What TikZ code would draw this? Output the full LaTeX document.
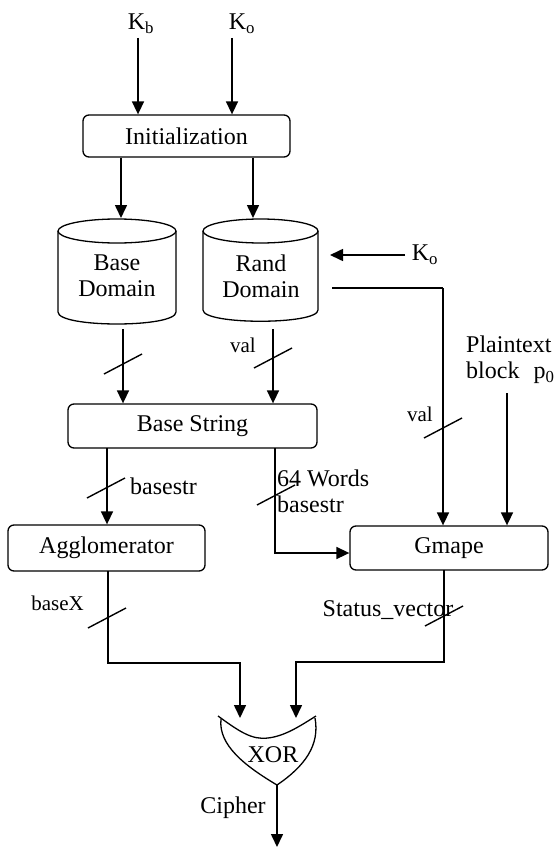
\documentclass[tikz,border=0pt]{standalone}
\usepackage{fontspec}
\setmainfont{Liberation Serif}
\usetikzlibrary{arrows.meta,calc}
\begin{document}
\begin{tikzpicture}[x=1pt,y=-1pt,
  box/.style={draw,line width=1.3pt,rounded corners=6pt,inner sep=0pt,font=\fontsize{24}{27}\selectfont},
  lbl/.style={inner sep=0pt,font=\fontsize{24}{27}\selectfont},
  slbl/.style={inner sep=0pt,font=\fontsize{21}{24}\selectfont},
  arr/.style={line width=1.6pt,-{Triangle[length=13pt,width=12pt]}},
  ln/.style={line width=1.6pt},
  cylsty/.style={line width=1.3pt},
  slashsty/.style={line width=1.4pt},
]
\useasboundingbox (0,0) rectangle (555,848);

% inputs
\node[lbl] (kb) at (141,24) {K\textsubscript{b}};
\node[lbl] (ko) at (242,24) {K\textsubscript{o}};
\coordinate (kbs) at (138,38);
\coordinate (kos) at (232,38);

\node[box,minimum width=207pt,minimum height=42pt] (init) at (186.5,136) {Initialization};
\draw[arr] (kbs) -- (kbs |- init.north);
\draw[arr] (kos) -- (kos |- init.north);

% cylinders
\draw[cylsty] (117,231) ellipse [x radius=59pt,y radius=12pt];
\draw[cylsty] (58,231) -- (58,312) .. controls (58,328) and (176,328) .. (176,312) -- (176,231);
\node[lbl,align=center] (base) at (117,276) {Base\\[-1pt]Domain};
\draw[cylsty] (260.5,231) ellipse [x radius=57.5pt,y radius=12pt];
\draw[cylsty] (203,231) -- (203,310) .. controls (203,325) and (318,325) .. (318,310) -- (318,231);
\node[lbl,align=center] (rand) at (261,276) {Rand\\[-1pt]Domain};

\coordinate (btop) at (121,218);
\coordinate (rtop) at (253,218);
\draw[arr] (init.south -| btop) -- (btop);
\draw[arr] (init.south -| rtop) -- (rtop);

% Ko into rand
\node[lbl] (ko2) at (425,255) {K\textsubscript{o}};
\coordinate (kos2) at (405,255);
\coordinate (kot) at (330,255);
\draw[arr] (kos2) -- (kot);

% Base String
\node[box,minimum width=249pt,minimum height=44pt] (bs) at (192.5,426) {Base String};
\coordinate (bout) at (123,329);
\coordinate (rout) at (273,329);
\draw[arr] (bout) -- (bout |- bs.north);
\draw[arr] (rout) -- (rout |- bs.north);
\draw[slashsty] (123,364) ++(-19,10) -- ++(38,-20);
\draw[slashsty] (273,358) ++(-19,10) -- ++(38,-20);
\node[slbl] (val1) at (243,345) {val};

% Gmape
\node[box,minimum width=198pt,minimum height=44pt] (gm) at (449,548) {Gmape};
\coordinate (rside) at (332,288);
\coordinate (rcorner) at (443,288);
\draw[ln] (rside) -- (rcorner);
\draw[arr] (rcorner) -- (rcorner |- gm.north);
\draw[slashsty] (443,428) ++(-19,10) -- ++(38,-20);
\node[slbl,anchor=east] (val2) at (433,414) {val};

\node[lbl,align=left,anchor=west] (pt) at (466,360) {Plaintext\\[-1pt]block\,\, p\textsubscript{0}};
\coordinate (pts) at (507,393);
\draw[arr] (pts) -- (pts |- gm.north);

% Agglomerator
\node[box,minimum width=197pt,minimum height=46pt] (agg) at (106.5,548) {Agglomerator};
\coordinate (bsl) at (107,448);
\draw[arr] (bsl) -- (bsl |- agg.north);
\draw[slashsty] (106,488) ++(-19,10) -- ++(38,-20);
\node[lbl,anchor=west] (bstr) at (130,486) {basestr};

\coordinate (bsr) at (275,448);
\coordinate (bsrc) at (275,553);
\draw[arr] (bsr) -- (bsrc) -- (bsrc -| gm.west);
\draw[slashsty] (276,495) ++(-19,10) -- ++(38,-20);
\node[lbl,align=left,anchor=west] (words) at (277,491) {64 Words\\[-1pt]basestr};

% XOR
\coordinate (xl) at (221,719);
\coordinate (xr) at (315,718);
\coordinate (xb) at (277,785);
\draw[cylsty] (218,716) .. controls (240,732) and (252,740) .. (268,738) .. controls (285,736) and (300,726) .. (316,716);
\draw[cylsty] (xl) .. controls (218,745) and (245,766) .. (xb);
\draw[cylsty] (xr) .. controls (320,745) and (305,766) .. (xb);
\node[lbl] (xor) at (273,755) {XOR};

\coordinate (ain) at (240,718);
\coordinate (gin) at (296,718);
\coordinate (aout) at (108,571);
\coordinate (gout) at (444,570);
\draw[arr] (aout) -- (108,663) -- (ain |- 0,663) -- (ain);
\draw[arr] (gout) -- (444,662) -- (gin |- 0,662) -- (gin);
\draw[slashsty] (107,618) ++(-19,10) -- ++(38,-20);
\draw[slashsty] (444,616) ++(-19,10) -- ++(38,-20);
\node[slbl,anchor=east] (bx) at (84,603) {baseX};
\node[lbl] (sv) at (388,610) {Status\_vector};

\coordinate (cend) at (277,847);
\draw[arr] (xb) -- (cend);
\node[lbl] (ciph) at (233,808) {Cipher};
\end{tikzpicture}
\end{document}
